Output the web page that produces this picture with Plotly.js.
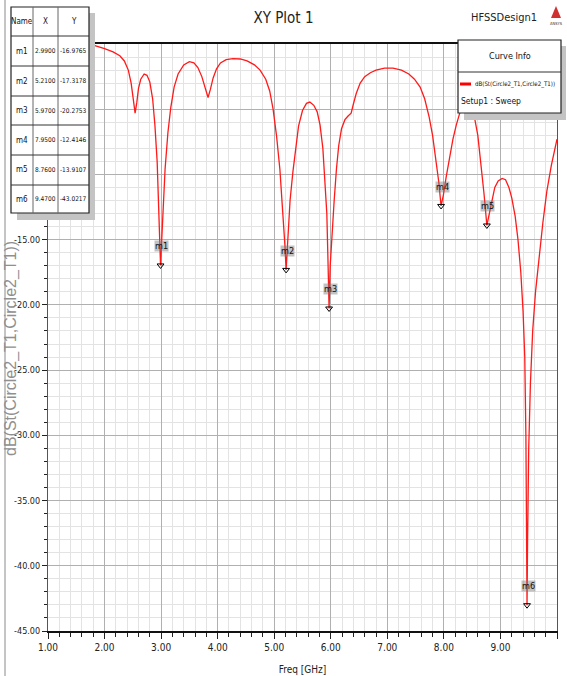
<!DOCTYPE html>
<html>
<head>
<meta charset="utf-8">
<script src="https://cdn.plot.ly/plotly-3.0.1.min.js"></script>
<style>html,body{margin:0;padding:0;background:#fff;}#plot{width:567px;height:676px;}</style>
</head>
<body>
<div id="plot"></div>
<script>
// ---- data ----
const freqGHz = [1.00,1.50,1.80,2.00,2.15,2.27,2.35,2.42,2.47,2.51,2.54,2.57,2.60,2.64,2.70,2.75,2.80,2.85,2.89,2.93,2.96,2.98,2.99,3.00,3.03,3.07,3.12,3.17,3.23,3.30,3.40,3.50,3.58,3.65,3.72,3.78,3.83,3.87,3.92,3.98,4.05,4.15,4.27,4.40,4.52,4.65,4.75,4.85,4.92,4.98,5.04,5.10,5.15,5.19,5.21,5.24,5.28,5.33,5.38,5.43,5.50,5.57,5.63,5.70,5.76,5.81,5.86,5.90,5.93,5.95,5.97,5.99,6.02,6.06,6.10,6.14,6.19,6.25,6.31,6.36,6.40,6.45,6.52,6.60,6.70,6.80,6.95,7.10,7.25,7.38,7.48,7.58,7.66,7.74,7.80,7.86,7.91,7.95,7.99,8.04,8.10,8.16,8.22,8.28,8.35,8.42,8.48,8.54,8.60,8.66,8.71,8.76,8.80,8.85,8.90,8.96,9.03,9.09,9.15,9.20,9.26,9.31,9.36,9.40,9.43,9.45,9.46,9.47,9.48,9.50,9.53,9.57,9.62,9.68,9.75,9.82,9.90,10.00];
const s11dB = [-0.02,-0.03,-0.08,-0.35,-0.6,-0.9,-1.3,-2.0,-3.0,-4.3,-5.3,-4.5,-3.4,-2.7,-2.3,-2.4,-2.9,-4.2,-6.2,-9.0,-12.5,-15.5,-16.9765,-16.0,-12.8,-9.6,-6.8,-4.9,-3.3,-2.3,-1.6,-1.35,-1.45,-1.8,-2.5,-3.3,-4.1,-3.5,-2.6,-1.9,-1.45,-1.2,-1.12,-1.15,-1.3,-1.6,-2.0,-2.7,-3.6,-5.0,-7.0,-9.6,-12.5,-15.5,-17.3178,-15.0,-12.0,-9.8,-7.8,-6.3,-5.1,-4.55,-4.45,-4.7,-5.2,-6.2,-8.0,-10.5,-13.0,-16.5,-20.2753,-17.0,-14.5,-12.0,-9.6,-7.8,-6.5,-5.8,-5.5,-5.3,-4.6,-3.8,-3.0,-2.5,-2.2,-2.0,-1.85,-1.85,-2.0,-2.3,-2.7,-3.3,-4.2,-5.6,-7.0,-8.8,-10.6,-12.4146,-11.6,-10.2,-8.7,-7.3,-6.2,-5.3,-4.7,-4.5,-4.8,-5.6,-7.0,-9.2,-11.5,-13.9107,-13.0,-11.9,-11.0,-10.5,-10.3,-10.4,-11.0,-11.8,-13.2,-15.0,-17.5,-20.5,-24.0,-30.0,-36.0,-43.0217,-38.0,-31.0,-26.0,-22.0,-19.0,-16.5,-13.7,-11.3,-9.3,-7.3];

const markerNames = ["m1","m2","m3","m4","m5","m6"];
const markerX = [2.99, 5.21, 5.97, 7.95, 8.76, 9.47];
const markerY = [-16.9765, -17.3178, -20.2753, -12.4146, -13.9107, -43.0217];

// y labels above -15 are hidden behind the marker table in the reference
const yTickValues = [-45, -40, -35, -30, -25, -20, -15, -10, -5, 0];
const yTickLabels = ["-45.00","-40.00","-35.00","-30.00","-25.00","-20.00","-15.00","","",""];
const xTickValues = [1, 2, 3, 4, 5, 6, 7, 8, 9, 10];
const xTickLabels = ["1.00","2.00","3.00","4.00","5.00","6.00","7.00","8.00","9.00","10.00"];

const tableHeader = ["Name","X","Y"];
const curveName = "dB(St(Circle2_T1,Circle2_T1))";
const setupName = "Setup1 : Sweep";

// ---- layout helpers (pixel -> paper) ----
const L = 48, R = 557, T = 44, B = 631;
const px = x => (x - L) / (R - L);
const py = y => (B - y) / (B - T);
const NARROW = "Liberation Sans Narrow, DejaVu Sans Condensed, Arial Narrow, sans-serif";

const traces = [
  {x: freqGHz, y: s11dB, type: "scatter", mode: "lines",
   line: {color: "#ff1a1a", width: 1.3}, name: curveName, showlegend: false, hoverinfo: "x+y"},
  {x: markerX, y: markerY, type: "scatter", mode: "markers",
   marker: {symbol: "triangle-down-open", size: 6, color: "#000", line: {width: 1, color: "#000"}},
   showlegend: false, hoverinfo: "x+y"}
];

const shapes = [];
const annotations = [];

// window edge line
shapes.push({type: "line", xref: "paper", yref: "paper", x0: px(5), x1: px(5), y0: py(0), y1: py(676),
  line: {color: "#8a8a8a", width: 1}, layer: "above"});

// ---- marker table ----
const tL = 11, tR = 89, tT = 7, tB = 213;
const colB = [tL, 33, 58, tR];
const rowB = [tT, 36, 66, 96, 125, 155, 185, tB];
shapes.push({type: "rect", xref: "paper", yref: "paper", x0: px(tR), x1: px(tR + 6), y0: py(tT + 6), y1: py(tB + 7),
  fillcolor: "#c4c4c4", line: {width: 0}, layer: "above"});
shapes.push({type: "rect", xref: "paper", yref: "paper", x0: px(tL + 6), x1: px(tR + 6), y0: py(tB), y1: py(tB + 7),
  fillcolor: "#c4c4c4", line: {width: 0}, layer: "above"});
shapes.push({type: "rect", xref: "paper", yref: "paper", x0: px(tL), x1: px(tR), y0: py(tT), y1: py(tB),
  fillcolor: "#ffffff", line: {color: "#222", width: 1.2}, layer: "above"});
for (let i = 1; i < colB.length - 1; i++) {
  shapes.push({type: "line", xref: "paper", yref: "paper", x0: px(colB[i]), x1: px(colB[i]), y0: py(tT), y1: py(tB),
    line: {color: "#666", width: 1}, layer: "above"});
}
for (let j = 1; j < rowB.length - 1; j++) {
  shapes.push({type: "line", xref: "paper", yref: "paper", x0: px(tL), x1: px(tR), y0: py(rowB[j]), y1: py(rowB[j]),
    line: {color: "#333", width: 1}, layer: "above"});
}
function cellText(txt, col, row, size) {
  annotations.push({xref: "paper", yref: "paper", x: px((colB[col] + colB[col + 1]) / 2),
    y: py((rowB[row] + rowB[row + 1]) / 2), text: txt, showarrow: false,
    xanchor: "center", yanchor: "middle", font: {family: NARROW, size: size, color: "#111"}});
}
tableHeader.forEach((h, c) => cellText(h, c, 0, 8));
markerNames.forEach((m, i) => {
  cellText(m, 0, i + 1, 8);
  cellText(markerX[i].toFixed(4), 1, i + 1, 6.5);
  cellText(markerY[i].toFixed(4), 2, i + 1, 6.5);
});

// ---- marker labels on the plot ----
markerNames.forEach((m, i) => {
  annotations.push({x: markerX[i], y: markerY[i], xref: "x", yref: "y", text: m, showarrow: false,
    yshift: 19, xshift: 1, bgcolor: "rgba(120,120,120,0.45)", borderpad: 0,
    font: {family: NARROW, size: 9, color: "#111"}});
});

// ---- curve info box ----
const cL = 458, cR = 561, cT = 40, cB = 113;
shapes.push({type: "rect", xref: "paper", yref: "paper", x0: px(cR), x1: px(cR + 5), y0: py(cT + 6), y1: py(cB + 7),
  fillcolor: "#c4c4c4", line: {width: 0}, layer: "above"});
shapes.push({type: "rect", xref: "paper", yref: "paper", x0: px(cL + 6), x1: px(cR + 5), y0: py(cB), y1: py(cB + 7),
  fillcolor: "#c4c4c4", line: {width: 0}, layer: "above"});
shapes.push({type: "rect", xref: "paper", yref: "paper", x0: px(cL), x1: px(cR), y0: py(cT), y1: py(cB),
  fillcolor: "#ffffff", line: {color: "#222", width: 1.2}, layer: "above"});
shapes.push({type: "line", xref: "paper", yref: "paper", x0: px(cL), x1: px(cR), y0: py(72), y1: py(72),
  line: {color: "#333", width: 1}, layer: "above"});
shapes.push({type: "line", xref: "paper", yref: "paper", x0: px(cL + 2), x1: px(cL + 13), y0: py(84), y1: py(84),
  line: {color: "#ff0000", width: 3}, layer: "above"});
annotations.push({xref: "paper", yref: "paper", x: px((cL + cR) / 2), y: py(56), text: "Curve Info", showarrow: false,
  xanchor: "center", yanchor: "middle", font: {family: NARROW, size: 9, color: "#111"}});
annotations.push({xref: "paper", yref: "paper", x: px(cL + 15), y: py(84), text: curveName, showarrow: false,
  xanchor: "left", yanchor: "middle", font: {family: NARROW, size: 6.1, color: "#111"}});
annotations.push({xref: "paper", yref: "paper", x: px(cL + 1), y: py(101), text: setupName, showarrow: false,
  xanchor: "left", yanchor: "middle", font: {family: NARROW, size: 8.5, color: "#111"}});

// ---- design name + logo ----
annotations.push({xref: "paper", yref: "paper", x: px(539), y: py(18), text: "HFSSDesign1", showarrow: false,
  xanchor: "right", yanchor: "middle", font: {family: NARROW, size: 11, color: "#222"}});
shapes.push({type: "path", xref: "paper", yref: "paper",
  path: `M ${px(556)} ${py(6)} L ${px(551)} ${py(18)} L ${px(561)} ${py(18)} Z`,
  fillcolor: "#d03030", line: {width: 0}, layer: "above"});
annotations.push({xref: "paper", yref: "paper", x: px(556), y: py(23), text: "ANSYS", showarrow: false,
  xanchor: "center", yanchor: "middle", font: {family: NARROW, size: 4, color: "#333"}});

// ---- y axis title, placed like the HFSS label ----
annotations.push({xref: "paper", yref: "paper", x: px(11), y: py(349), text: curveName, showarrow: false,
  textangle: -90, xanchor: "center", yanchor: "middle",
  font: {family: "Liberation Sans, Arial, sans-serif", size: 16, color: "#8f8f8f"}});

const layout = {
  width: 567, height: 676,
  margin: {l: L, r: 567 - R, t: T, b: 676 - B, pad: 0},
  paper_bgcolor: "#ffffff", plot_bgcolor: "#ffffff",
  showlegend: false,
  title: {text: "XY Plot 1", x: 0.5, xref: "container", y: 1 - 18 / 676, yref: "container",
    xanchor: "center", yanchor: "middle", font: {family: NARROW, size: 15, color: "#222"}},
  xaxis: {
    range: [1, 10], tickmode: "array", tickvals: xTickValues, ticktext: xTickLabels,
    showgrid: true, gridcolor: "#b0b0b0", gridwidth: 1.2,
    minor: {dtick: 0.2, tick0: 1, showgrid: true, gridcolor: "#e3e3e3", gridwidth: 1, ticks: "outside", ticklen: 4, tickcolor: "#222"},
    ticks: "outside", ticklen: 6, tickcolor: "#222", tickwidth: 1,
    showline: true, linecolor: "#111", linewidth: 2, mirror: true,
    zeroline: false, layer: "below traces",
    tickfont: {family: NARROW, size: 10, color: "#222"},
    title: {text: "Freq [GHz]", standoff: 14, font: {family: NARROW, size: 10, color: "#222"}}
  },
  yaxis: {
    range: [-45, 0], tickmode: "array", tickvals: yTickValues, ticktext: yTickLabels,
    showgrid: true, gridcolor: "#b0b0b0", gridwidth: 1.2,
    minor: {dtick: 1, tick0: 0, showgrid: true, gridcolor: "#e3e3e3", gridwidth: 1, ticks: "outside", ticklen: 3, tickcolor: "#222"},
    ticks: "outside", ticklen: 5, tickcolor: "#222", tickwidth: 1,
    showline: true, linecolor: "#555", linewidth: 1, mirror: true,
    zeroline: false, layer: "below traces",
    tickfont: {family: NARROW, size: 9, color: "#222"}
  },
  shapes: shapes,
  annotations: annotations
};

Plotly.newPlot("plot", traces, layout, {displayModeBar: false, staticPlot: true});
</script>
</body>
</html>
